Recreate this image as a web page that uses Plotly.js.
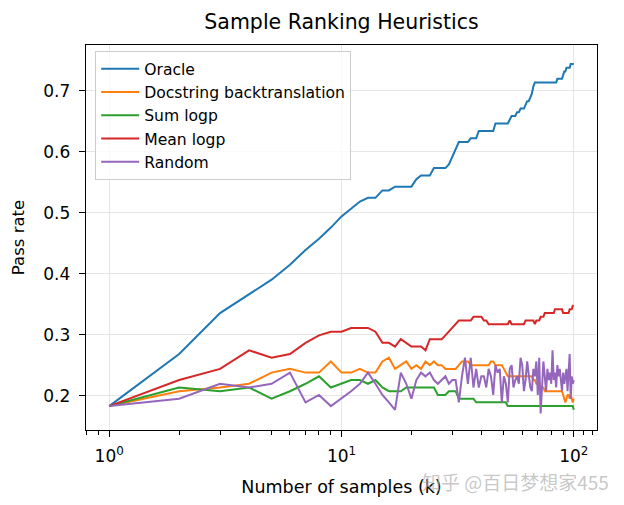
<!DOCTYPE html>
<html>
<head>
<meta charset="utf-8">
<script src="https://cdn.plot.ly/plotly-3.0.1.min.js"></script>
<style>html,body{margin:0;padding:0;background:#fff;}#chart{width:624px;height:505px;}</style>
</head>
<body>
<div id="chart"></div>
<script>
const samples = [1,2,3,4,5,6,7,8,9,10,11,12,13,14,15,16,17,18,19,20,21,22,23,24,25,26,27,28,29,30,31,32,33,34,35,36,37,38,39,40,41,42,43,44,45,46,47,48,49,50,51,52,53,54,55,56,57,58,59,60,61,62,63,64,65,66,67,68,69,70,71,72,73,74,75,76,77,78,79,80,81,82,83,84,85,86,87,88,89,90,91,92,93,94,95,96,97,98,99,100];

const oracle = [0.1829,0.2683,0.3354,0.3659,0.3902,0.4146,0.4390,0.4573,0.4756,0.4939,
0.5061,0.5183,0.5244,0.5244,0.5366,0.5366,0.5427,0.5427,0.5427,0.5427,
0.5549,0.5610,0.5610,0.5610,0.5732,0.5732,0.5732,0.5732,0.5793,0.5915,
0.6037,0.6159,0.6159,0.6159,0.6159,0.6220,0.6220,0.6220,0.6341,0.6341,
0.6341,0.6341,0.6341,0.6341,0.6341,0.6463,0.6463,0.6463,0.6463,0.6463,
0.6463,0.6463,0.6524,0.6585,0.6585,0.6585,0.6646,0.6646,0.6707,0.6707,
0.6707,0.6768,0.6829,0.6829,0.6890,0.6951,0.7073,0.7134,0.7134,0.7134,
0.7134,0.7134,0.7134,0.7134,0.7134,0.7134,0.7134,0.7134,0.7134,0.7134,
0.7134,0.7134,0.7134,0.7134,0.7195,0.7195,0.7195,0.7195,0.7195,0.7256,
0.7317,0.7317,0.7378,0.7378,0.7378,0.7378,0.7439,0.7439,0.7439,0.7439];

const docstring = [0.1829,0.2073,0.2134,0.2195,0.2378,0.2439,0.2378,0.2378,0.2561,0.2378,
0.2378,0.2439,0.2378,0.2378,0.2561,0.2622,0.2439,0.2500,0.2561,0.2439,
0.2500,0.2439,0.2561,0.2500,0.2561,0.2500,0.2500,0.2439,0.2439,0.2439,
0.2439,0.2500,0.2561,0.2561,0.2561,0.2500,0.2500,0.2500,0.2500,0.2500,
0.2500,0.2500,0.2500,0.2561,0.2561,0.2500,0.2500,0.2500,0.2500,0.2439,
0.2378,0.2317,0.2317,0.2317,0.2317,0.2317,0.2317,0.2317,0.2317,0.2317,
0.2317,0.2317,0.2317,0.2317,0.2317,0.2317,0.2256,0.2256,0.2195,0.2195,
0.2195,0.2134,0.2134,0.2134,0.2073,0.2073,0.2073,0.2073,0.2073,0.2073,
0.2073,0.2073,0.2073,0.2073,0.2073,0.2073,0.2073,0.2073,0.2073,0.2012,
0.1951,0.1890,0.1951,0.2012,0.2012,0.1951,0.2012,0.1951,0.1890,0.1951];

const sumLogp = [0.1829,0.2134,0.2073,0.2134,0.1951,0.2073,0.2195,0.2317,0.2134,0.2195,
0.2256,0.2256,0.2195,0.2256,0.2134,0.2073,0.2073,0.2073,0.2134,0.2134,
0.2134,0.2134,0.2134,0.2134,0.2134,0.2012,0.2012,0.2012,0.2073,0.2073,
0.2073,0.1951,0.1951,0.1951,0.1951,0.1951,0.1951,0.1890,0.1890,0.1890,
0.1890,0.1890,0.1890,0.1890,0.1890,0.1890,0.1890,0.1890,0.1890,0.1890,
0.1890,0.1829,0.1829,0.1829,0.1829,0.1829,0.1829,0.1829,0.1829,0.1829,
0.1829,0.1829,0.1829,0.1829,0.1829,0.1829,0.1829,0.1829,0.1829,0.1829,
0.1829,0.1829,0.1829,0.1829,0.1829,0.1829,0.1829,0.1829,0.1829,0.1829,
0.1829,0.1829,0.1829,0.1829,0.1829,0.1829,0.1829,0.1829,0.1829,0.1829,
0.1829,0.1829,0.1829,0.1829,0.1829,0.1829,0.1829,0.1829,0.1829,0.1768];

const meanLogp = [0.1829,0.2256,0.2439,0.2744,0.2622,0.2683,0.2866,0.2988,0.3049,0.3049,
0.3110,0.3110,0.3110,0.3049,0.2866,0.2866,0.2805,0.2927,0.2866,0.2805,
0.2805,0.2805,0.2744,0.2927,0.2927,0.2927,0.2927,0.2988,0.3049,0.3110,
0.3171,0.3232,0.3232,0.3232,0.3232,0.3232,0.3293,0.3293,0.3293,0.3293,
0.3232,0.3232,0.3171,0.3171,0.3171,0.3171,0.3171,0.3171,0.3171,0.3171,
0.3171,0.3171,0.3232,0.3171,0.3171,0.3171,0.3171,0.3171,0.3171,0.3171,
0.3171,0.3232,0.3232,0.3232,0.3232,0.3232,0.3232,0.3171,0.3232,0.3232,
0.3232,0.3293,0.3293,0.3293,0.3354,0.3354,0.3354,0.3354,0.3354,0.3354,
0.3354,0.3354,0.3415,0.3415,0.3415,0.3415,0.3415,0.3415,0.3415,0.3354,
0.3354,0.3354,0.3354,0.3354,0.3354,0.3415,0.3415,0.3415,0.3476,0.3476];

const randomRank = [0.1829,0.1951,0.2195,0.2134,0.2195,0.2378,0.1890,0.2012,0.1829,0.1951,
0.2073,0.2195,0.2378,0.2195,0.2012,0.1890,0.1768,0.2378,0.2195,0.1951,
0.2256,0.2378,0.2317,0.2378,0.2256,0.2195,0.2256,0.2317,0.2195,0.2256,
0.2256,0.1890,0.2317,0.2622,0.2195,0.2622,0.2134,0.2439,0.2134,0.2317,
0.2317,0.2134,0.2439,0.2317,0.2012,0.2500,0.2378,0.2439,0.1890,0.2317,
0.2195,0.1890,0.2439,0.2500,0.2134,0.2256,0.2317,0.2195,0.2622,0.2500,
0.2073,0.2256,0.2561,0.2317,0.2134,0.2073,0.2439,0.2317,0.2561,0.2012,
0.2622,0.1707,0.2256,0.2561,0.2317,0.2073,0.2439,0.2256,0.2378,0.2195,
0.2744,0.2256,0.2378,0.2134,0.2500,0.2317,0.2439,0.2256,0.2073,0.2378,
0.2195,0.2317,0.2439,0.2073,0.2500,0.2683,0.1951,0.2317,0.2195,0.2256];

const seriesNames = ["Oracle","Docstring backtranslation","Sum logp","Mean logp","Random"];
const seriesColors = ["#1f77b4","#ff7f0e","#2ca02c","#d62728","#9467bd"];
const seriesData = [oracle, docstring, sumLogp, meanLogp, randomRank];

const xTickVals = [1,10,100];
const xTickText = ["10<sup>0</sup>","10<sup>1</sup>","10<sup>2</sup>"];
const xMinorVals = [0.8,0.9,2,3,4,5,6,7,8,9,20,30,40,50,60,70,80,90,110,120];
const yTickVals = [0.2,0.3,0.4,0.5,0.6,0.7];
const yTickText = ["0.2","0.3","0.4","0.5","0.6","0.7"];

const FONT = "DejaVu Sans, sans-serif";

const traces = seriesNames.map((name, i) => ({
  x: samples,
  y: seriesData[i],
  name: name,
  type: "scatter",
  mode: "lines",
  line: {color: seriesColors[i], width: 2},
  legendgroup: "g" + i
}));

const layout = {
  width: 624,
  height: 505,
  margin: {l: 86, r: 27, t: 45, b: 75},
  paper_bgcolor: "#ffffff",
  plot_bgcolor: "#ffffff",
  font: {family: FONT, size: 17, color: "#000"},
  showlegend: true,
  title: {
    text: "Sample Ranking Heuristics",
    font: {family: FONT, size: 20.5, color: "#000"},
    x: 0.5, xref: "paper", xanchor: "center",
    y: 1 - 22/505, yref: "container", yanchor: "middle"
  },
  xaxis: {
    type: "log",
    range: [-0.1, 2.1],
    tickmode: "array",
    tickvals: xTickVals,
    ticktext: xTickText,
    ticks: "outside",
    ticklen: 6,
    tickwidth: 1.2,
    tickcolor: "#000",
    ticklabelstandoff: 4,
    tickfont: {family: FONT, size: 17},
    showgrid: true,
    gridcolor: "#dedede",
    gridwidth: 0.8,
    showline: true,
    linecolor: "#000",
    linewidth: 1.3,
    mirror: true,
    zeroline: false,
    minor: {tickmode: "array", tickvals: xMinorVals, ticks: "outside", ticklen: 3.5, tickwidth: 1, tickcolor: "#000", showgrid: false},
    title: {text: "Number of samples (k)", font: {family: FONT, size: 17.5}, standoff: 16},
    automargin: false
  },
  yaxis: {
    range: [0.1437, 0.775],
    tickmode: "array",
    tickvals: yTickVals,
    ticktext: yTickText,
    ticks: "outside",
    ticklen: 6,
    tickwidth: 1.2,
    tickcolor: "#000",
    ticklabelstandoff: 5,
    tickfont: {family: FONT, size: 17},
    showgrid: true,
    gridcolor: "#dedede",
    gridwidth: 0.8,
    showline: true,
    linecolor: "#000",
    linewidth: 1.3,
    mirror: true,
    zeroline: false,
    title: {text: "Pass rate", font: {family: FONT, size: 16.5}, standoff: 14},
    automargin: false
  },
  legend: {
    x: 0.018, y: 1 - 6/385, xanchor: "left", yanchor: "top",
    xref: "paper", yref: "paper",
    bgcolor: "rgba(255,255,255,0.8)",
    bordercolor: "#cccccc",
    borderwidth: 1,
    font: {family: FONT, size: 15.6, color: "#000"},
    itemwidth: 38,
    traceorder: "grouped",
    tracegroupgap: 0
  },
  annotations: [{
    text: "知乎 @百日梦想家455",
    xref: "paper", yref: "paper",
    x: (515 - 86)/511, y: (430 - 481)/385,
    xanchor: "center", yanchor: "middle",
    showarrow: false,
    font: {family: "Noto Sans CJK SC, sans-serif", size: 19, color: "rgba(175,175,175,0.7)"}
  }]
};

Plotly.newPlot("chart", traces, layout, {displayModeBar: false, staticPlot: true});
</script>
</body>
</html>
